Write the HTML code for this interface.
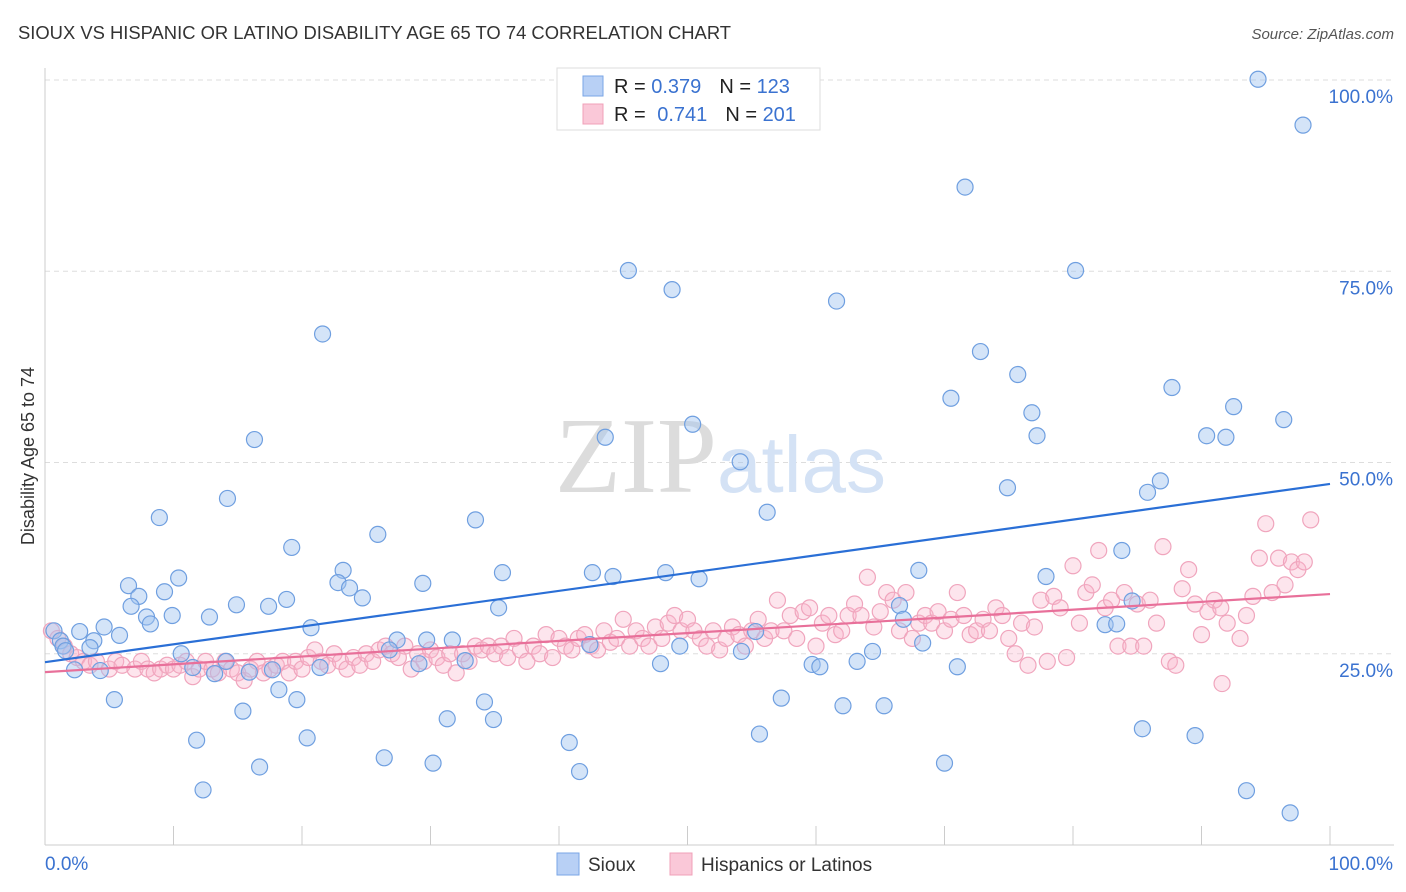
<!DOCTYPE html>
<html><head><meta charset="utf-8">
<style>
body{margin:0;background:#fff;font-family:"Liberation Sans",sans-serif;}
#wrap{position:relative;width:1406px;height:892px;overflow:hidden;}
svg{position:absolute;left:0;top:0;}
</style></head>
<body>
<div id="wrap">
<svg id="chart" width="1406" height="892">
  <text x="18" y="39" font-size="18.4" fill="#333">SIOUX VS HISPANIC OR LATINO DISABILITY AGE 65 TO 74 CORRELATION CHART</text>
  <text x="1394" y="39" font-size="15" fill="#555" font-style="italic" text-anchor="end">Source: ZipAtlas.com</text>
  <text x="34" y="456" font-size="18" fill="#333" text-anchor="middle" transform="rotate(-90 34 456)">Disability Age 65 to 74</text>
  <g id="grid"></g>
  <text x="717" y="492" font-size="108" fill="#dcdcdc" text-anchor="end" font-family="Liberation Serif, serif">ZIP</text>
  <text x="717" y="492" font-size="80" fill="#d4e2f5">atlas</text>
  <g id="pts"></g>
  <g id="lines"></g>
  <g>
    <rect x="557" y="68" width="263" height="62" fill="#fff" stroke="#ddd"/>
    <rect x="583" y="76" width="20" height="20" fill="#b8d0f5" stroke="#7aa6e6"/>
    <rect x="583" y="104" width="20" height="20" fill="#fac8d8" stroke="#f0a0b8"/>
    <text x="614" y="93" font-size="20" fill="#222">R = <tspan fill="#3a72d0">0.379</tspan><tspan dx="18">N = </tspan><tspan fill="#3a72d0">123</tspan></text>
    <text x="614" y="121" font-size="20" fill="#222">R = <tspan dx="6" fill="#3a72d0">0.741</tspan><tspan dx="18">N = </tspan><tspan fill="#3a72d0">201</tspan></text>
  </g>
  <g>
    <rect x="557" y="853" width="22" height="22" fill="#b8d0f5" stroke="#7aa6e6"/>
    <text x="588" y="871" font-size="19" fill="#333">Sioux</text>
    <rect x="670" y="853" width="22" height="22" fill="#fac8d8" stroke="#f0a0b8"/>
    <text x="701" y="871" font-size="19" fill="#333">Hispanics or Latinos</text>
  </g>
  <text x="45" y="870" font-size="19" fill="#3a72d0">0.0%</text>
  <text x="1393" y="870" font-size="19" fill="#3a72d0" text-anchor="end">100.0%</text>
</svg>
</div>
<script>
const yTicks=[25,50,75,100];
const yTickLabels=["25.0%","50.0%","75.0%","100.0%"];
const blueX=[94.4,97.9,71.6,45.4,80.2,48.8,61.6,21.6,72.8,75.7,87.7,70.5,76.8,92.5,96.4,50.4,16.3,43.6,77.2,90.4,91.9,54.1,74.9,86.8,85.8,14.2,8.9,33.5,56.2,25.9,19.2,83.8,10.4,23.2,35.6,42.6,44.2,48.3,50.9,68.0,77.9,6.5,9.3,22.8,23.7,29.4,7.3,14.9,18.8,24.7,6.7,17.4,35.3,66.5,84.6,7.9,9.9,12.8,8.2,66.8,0.7,2.7,4.6,20.7,5.8,1.2,3.8,1.4,3.5,27.4,29.7,31.7,42.4,49.4,55.3,68.3,82.5,83.4,10.6,1.6,26.8,32.7,54.2,64.4,14.1,11.5,13.2,21.4,29.1,2.3,4.3,15.9,17.7,47.9,59.7,60.3,63.2,71.0,18.2,5.4,19.6,34.2,57.3,15.4,62.1,65.3,31.3,34.9,11.8,20.4,40.8,55.6,85.4,89.5,26.4,16.7,30.2,41.6,70.0,12.3,93.5,96.9];
const blueY=[100.1,94.1,86.0,75.1,75.1,72.6,71.1,66.8,64.5,61.5,59.8,58.4,56.5,57.3,55.6,55.0,53.0,53.3,53.5,53.5,53.3,50.1,46.7,47.6,46.1,45.3,42.8,42.5,43.5,40.6,38.9,38.5,34.9,35.9,35.6,35.6,35.1,35.6,34.8,35.9,35.1,33.9,33.1,34.3,33.6,34.2,32.5,31.4,32.1,32.3,31.2,31.2,31.0,31.3,31.9,29.8,30.0,29.8,28.9,29.5,28.0,27.9,28.5,28.4,27.4,26.7,26.7,26.0,25.8,26.8,26.8,26.8,26.2,26.0,27.9,26.4,28.8,28.9,25.0,25.4,25.5,24.1,25.3,25.3,24.0,23.2,22.4,23.2,23.7,22.9,22.8,22.6,22.9,23.7,23.6,23.3,24.0,23.3,20.3,19.0,19.0,18.7,19.2,17.5,18.2,18.2,16.5,16.4,13.7,14.0,13.4,14.5,15.2,14.3,11.4,10.2,10.7,9.6,10.7,7.2,7.1,4.2];
const pinkX=[0.5,1,1.5,2,2.5,3,3.5,4,5,5.5,6,7,7.5,8,8.5,9,9.5,10,10.5,11,11.5,12,12.5,13,13.5,14,14.5,15,15.5,16,16.5,17,17.5,18,18.5,19,19.5,20,20.5,21,21.5,22,22.5,23,23.5,24,24.5,25,25.5,26,26.5,27,27.5,28,28.5,29,29.5,30,30.5,31,31.5,32,32.5,33,33.5,34,34.5,35,35.5,36,36.5,37,37.5,38,38.5,39,39.5,40,40.5,41,41.5,42,42.5,43,43.5,44,44.5,45,45.5,46,46.5,47,47.5,48,48.5,49,49.5,50,50.5,51,51.5,52,52.5,53,53.5,54,54.5,55,55.5,56,56.5,57,57.5,58,58.5,59,59.5,60,60.5,61,61.5,62,62.5,63,63.5,64,64.5,65,65.5,66,66.5,67,67.5,68,68.5,69,69.5,70,70.5,71,71.5,72,72.5,73,73.5,74,74.5,75,75.5,76,76.5,77,77.5,78,78.5,79,79.5,80,80.5,81,81.5,82,82.5,83,83.5,84,84.5,85,85.5,86,86.5,87,87.5,88,88.5,89,89.5,90,90.5,91,91.5,92,91.6,93,93.5,94,94.5,95,95.5,96,96.5,97,97.5,98,98.5];
const pinkY=[28,27,26,25,24.5,24,23.5,24,23,24,23.5,23,24,23,22.5,23,23.5,23,23.5,24,22,23,24,23,22.5,24,23,22.5,21.5,23,24,22.5,23,23.5,24,22.5,24,23,24.5,25.5,24,23.5,25,24,23,24.5,23.5,25,24,25.5,26,25,24.5,26,23,25,24,25.5,24.5,23.5,25,22.5,25,24,26,25.5,26,25,26,24.5,27,25.5,24,26,25,27.5,24.5,27,26,25.5,27,27.5,26,25.5,28,26.5,27,29.5,26,28,27,26,28.5,27,29,30,28,29.5,28,27,26,28,25.5,27,28.5,27.5,26,28,29.5,27,28,32,28,30,27,30.5,31,26,29,30,27.5,28,30,31.5,30,35,28.5,30.5,33,32,28,33,27,29,30,29,30.5,28,29.5,33,30,27.5,28,29.5,28,31,30,27,25,29,23.5,28.5,32,24,32.5,31,24.5,36.5,29,33,34,38.5,31,32,26,33,26,31.5,26,32,29,39,24,23.5,33.5,36,31.5,27.5,30.5,32,31,29,21.1,27,30,32.5,37.5,42,33,37.5,34,37,36,37,42.5];
const blueLine=[23.9,47.2];
const pinkLine=[22.6,32.8];

const X0=45,X1=1330,Y0=845,Y100=80;
const sx=v=>X0+(X1-X0)*v/100;
const sy=v=>Y0-(Y0-Y100)*v/100;
const NS="http://www.w3.org/2000/svg";
function mk(tag,attrs,parent){const e=document.createElementNS(NS,tag);for(const k in attrs)e.setAttribute(k,attrs[k]);parent.appendChild(e);return e;}
const grid=document.getElementById('grid');
yTicks.forEach((t,i)=>{
  const l=mk('line',{x1:45,x2:1394,y1:sy(t),y2:sy(t),stroke:'#ddd','stroke-dasharray':'5,4'},grid);
  
  
  const tx=mk('text',{x:1393,y:sy(t)+23,'font-size':19,fill:'#3a72d0','text-anchor':'end'},grid);
  tx.textContent=yTickLabels[i];
  
  
});
const ax=mk('line',{x1:45,x2:1394,y1:845,y2:845,stroke:'#ccc'},grid);


const ay=mk('line',{x1:45,x2:45,y1:68,y2:845,stroke:'#ccc'},grid);


for(let i=0;i<=10;i++){
  const t=mk('line',{x1:sx(i*10),x2:sx(i*10),y1:826,y2:845,stroke:'#ccc'},grid);
  
  
}
const pts=document.getElementById('pts');
pinkX.forEach((x,i)=>{
  const c=mk('circle',{cx:sx(x),cy:sy(pinkY[i]),r:8,fill:'rgba(248,180,202,0.35)',stroke:'#f0a5bd','stroke-width':1.2},pts);
  
  
});
blueX.forEach((x,i)=>{
  const c=mk('circle',{cx:sx(x),cy:sy(blueY[i]),r:8,fill:'rgba(160,195,240,0.45)',stroke:'#6f9fe0','stroke-width':1.2},pts);
  
  
});
const lines=document.getElementById('lines');
const bl=mk('line',{x1:sx(0),y1:sy(blueLine[0]),x2:sx(100),y2:sy(blueLine[1]),stroke:'#2a6fd6','stroke-width':2.2},lines);


const pl=mk('line',{x1:sx(0),y1:sy(pinkLine[0]),x2:sx(100),y2:sy(pinkLine[1]),stroke:'#e8709a','stroke-width':2.2},lines);


</script>
</body></html>
